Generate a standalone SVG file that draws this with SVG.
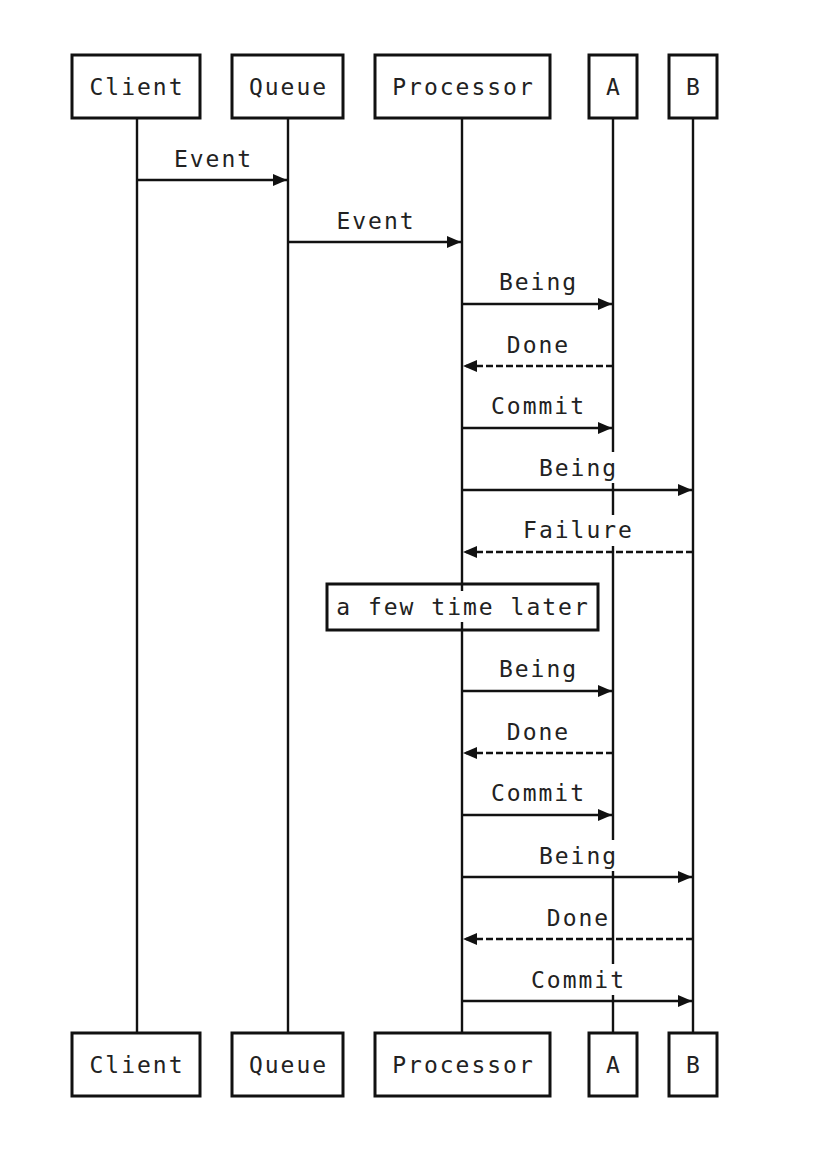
<svg xmlns="http://www.w3.org/2000/svg" width="826" height="1166" viewBox="0 0 826 1166">
<style>
text{font-family:"DejaVu Sans Mono","Liberation Mono",monospace;font-size:23px;letter-spacing:2px;fill:#222;text-anchor:middle}
.box{fill:#fff;stroke:#111;stroke-width:3}
.life{stroke:#111;stroke-width:2.4;fill:none}
.msg{stroke:#111;stroke-width:2.4;fill:none;marker-end:url(#arr)}
.dash{stroke-dasharray:7,3}
.bg{fill:#fff}
.note{fill:none;stroke:#111;stroke-width:3}
</style>
<defs>
<marker id="arr" markerUnits="userSpaceOnUse" markerWidth="14" markerHeight="14" refX="14" refY="7" orient="auto">
<path d="M0,1 L14,7 L0,13 z" fill="#111"/>
</marker>
</defs>
<rect width="826" height="1166" fill="#fff"/>
<g id="lifelines">
<line class="life" x1="137" y1="118" x2="137" y2="1033"/>
<line class="life" x1="288" y1="118" x2="288" y2="1033"/>
<line class="life" x1="462" y1="118" x2="462" y2="1033"/>
<line class="life" x1="613" y1="118" x2="613" y2="1033"/>
<line class="life" x1="693" y1="118" x2="693" y2="1033"/>
</g>
<g id="node-client">
<rect class="box" x="72" y="55" width="128" height="63"/><text x="137" y="95">Client</text>
<rect class="box" x="72" y="1033" width="128" height="63"/><text x="137" y="1073">Client</text>
</g>
<g id="node-queue">
<rect class="box" x="232" y="55" width="111" height="63"/><text x="288.5" y="95">Queue</text>
<rect class="box" x="232" y="1033" width="111" height="63"/><text x="288.5" y="1073">Queue</text>
</g>
<g id="node-processor">
<rect class="box" x="375" y="55" width="175" height="63"/><text x="463.5" y="95">Processor</text>
<rect class="box" x="375" y="1033" width="175" height="63"/><text x="463.5" y="1073">Processor</text>
</g>
<g id="node-a">
<rect class="box" x="589" y="55" width="48" height="63"/><text x="614" y="95">A</text>
<rect class="box" x="589" y="1033" width="48" height="63"/><text x="614" y="1073">A</text>
</g>
<g id="node-b">
<rect class="box" x="669" y="55" width="48" height="63"/><text x="694" y="95">B</text>
<rect class="box" x="669" y="1033" width="48" height="63"/><text x="694" y="1073">B</text>
</g>
<g id="connectors">
<line class="msg" x1="137" y1="180" x2="287" y2="180"/>
<text x="213.5" y="167">Event</text>
<line class="msg" x1="288" y1="242" x2="461" y2="242"/>
<text x="376" y="229">Event</text>
<line class="msg" x1="462" y1="304" x2="612" y2="304"/>
<text x="538.5" y="290">Being</text>
<line class="msg dash" x1="613" y1="366" x2="463" y2="366"/>
<text x="538.5" y="353">Done</text>
<line class="msg" x1="462" y1="428" x2="612" y2="428"/>
<text x="538.5" y="414">Commit</text>
<line class="msg" x1="462" y1="490" x2="692" y2="490"/>
<rect class="bg" x="538" y="452" width="80" height="31"/>
<text x="578.5" y="476">Being</text>
<line class="msg dash" x1="693" y1="552" x2="463" y2="552"/>
<rect class="bg" x="520" y="515" width="116" height="31"/>
<text x="578.5" y="538">Failure</text>
<g id="note">
<rect class="note" x="327" y="584" width="271" height="46"/>
<rect class="bg" x="333" y="591" width="259" height="31"/>
<text x="463" y="615">a few time later</text>
</g>
<line class="msg" x1="462" y1="691" x2="612" y2="691"/>
<text x="538.5" y="677">Being</text>
<line class="msg dash" x1="613" y1="753" x2="463" y2="753"/>
<text x="538.5" y="740">Done</text>
<line class="msg" x1="462" y1="815" x2="612" y2="815"/>
<text x="538.5" y="801">Commit</text>
<line class="msg" x1="462" y1="877" x2="692" y2="877"/>
<rect class="bg" x="538" y="840" width="80" height="31"/>
<text x="578.5" y="864">Being</text>
<line class="msg dash" x1="693" y1="939" x2="463" y2="939"/>
<text x="578.5" y="926">Done</text>
<line class="msg" x1="462" y1="1001" x2="692" y2="1001"/>
<rect class="bg" x="530" y="964" width="96" height="31"/>
<text x="578.5" y="988">Commit</text>
</g>
</svg>
